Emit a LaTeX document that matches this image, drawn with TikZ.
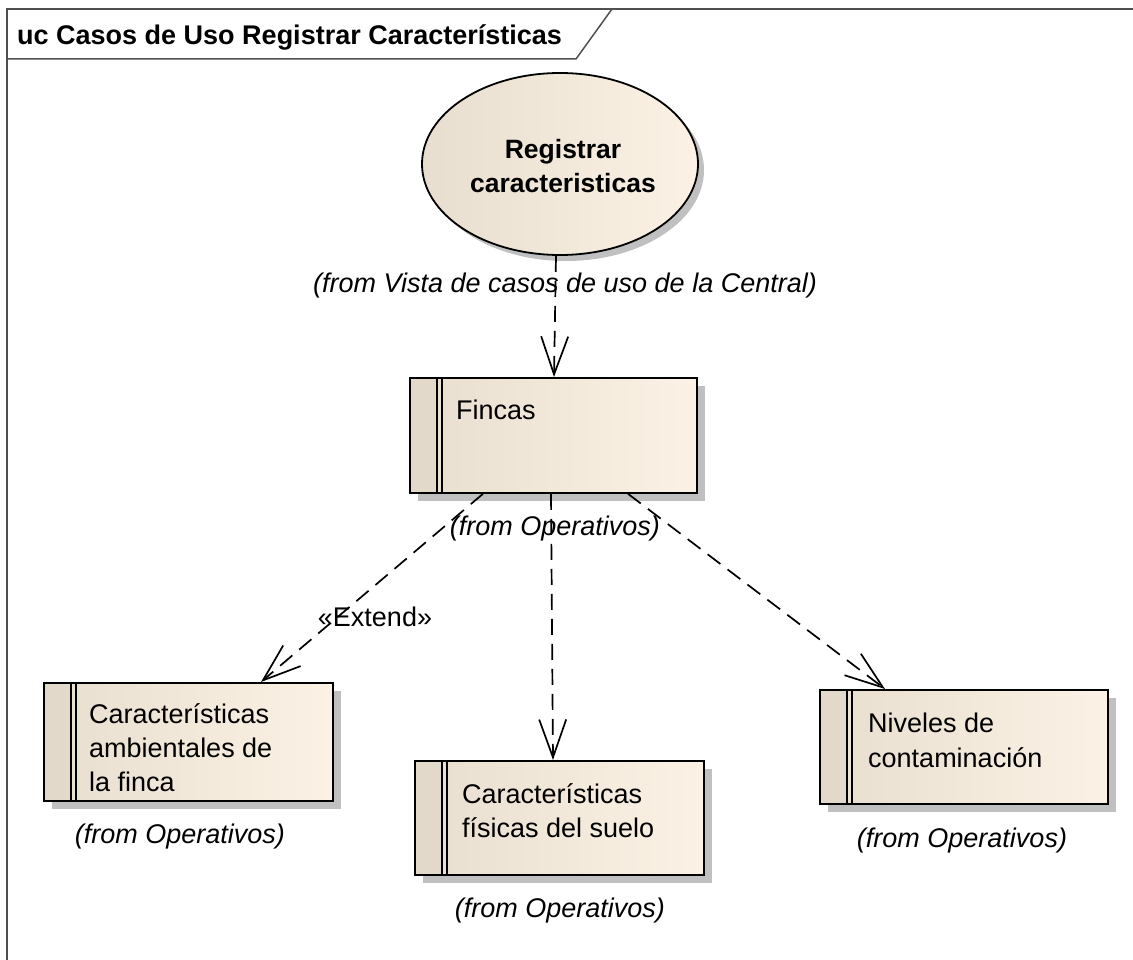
\documentclass[tikz,border=0pt]{standalone}
\usepackage{fontspec}
\setmainfont{Liberation Sans}
\usetikzlibrary{arrows.meta,shadows,calc,shapes.geometric}
\definecolor{fillL}{HTML}{E8DECF}
\definecolor{fillR}{HTML}{FBF2E5}
\definecolor{stripec}{HTML}{E3D9CA}
\definecolor{shadowc}{HTML}{C0C0C0}
\definecolor{framec}{HTML}{505050}
\begin{document}
\begin{tikzpicture}[x=1pt,y=-1pt,
  ucbox/.style={rectangle, draw=black, line width=1.8pt, inner sep=0pt,
    anchor=north west, left color=fillL, right color=fillR,
    drop shadow={shadow xshift=8pt, shadow yshift=-8pt, fill=shadowc, opacity=1},
    path picture={
      \fill[stripec] (path picture bounding box.north west) rectangle ([xshift=27pt]path picture bounding box.south west);
      \draw[line width=1.6pt] ([xshift=27pt]path picture bounding box.north west) -- ([xshift=27pt]path picture bounding box.south west);
      \draw[line width=1.6pt] ([xshift=32pt]path picture bounding box.north west) -- ([xshift=32pt]path picture bounding box.south west);
    }},
  uccase/.style={ellipse, draw=black, line width=1.8pt, inner sep=0pt,
    left color=fillL, right color=fillR,
    drop shadow={shadow xshift=6pt, shadow yshift=-6pt, fill=shadowc, opacity=1}},
  txt/.style={anchor=base west, inner sep=0pt, font=\fontsize{27}{34}\selectfont},
  fromtxt/.style={anchor=base, inner sep=0pt, font=\fontsize{27}{34}\selectfont\itshape},
  dep/.style={line width=1.7pt, dash pattern=on 16pt off 9pt,
    -{Straight Barb[length=38pt,width=27pt,line width=1.7pt]}},
]
\useasboundingbox (0,0) rectangle (1133,960);
\fill[white] (0,0) rectangle (1133,960);
% frame
\draw[framec, line width=1.5pt] (7,960) -- (7,9) -- (1133,9);
\draw[framec, line width=1.5pt] (7,59) -- (576,59) -- (612,9);
\node[anchor=base west, inner sep=0pt, font=\fontsize{27}{32}\selectfont\bfseries] (title) at (17,45) {uc Casos de Uso Registrar Características};

% use case
\node[uccase, minimum width=276pt, minimum height=182pt] (uc) at (560,164) {};
\node[anchor=base, inner sep=0pt, font=\fontsize{26.5}{32}\selectfont\bfseries] (ucA) at (563,159) {Registrar};
\node[anchor=base, inner sep=0pt, font=\fontsize{26.5}{32}\selectfont\bfseries] (ucB) at (563,193) {caracteristicas};
\node[fromtxt] (ucF) at (565,292) {(from Vista de casos de uso de la Central)};

% Fincas
\node[ucbox, minimum width=287pt, minimum height=115pt] (fincas) at (409,377) {};
\node[txt] (fincasA) at (456,419) {Fincas};
\node[fromtxt] (fincasF) at (555,535) {(from Operativos)};

% left
\node[ucbox, minimum width=289pt, minimum height=118pt] (amb) at (43,682) {};
\node[txt] (ambA) at (89,723) {Características};
\node[txt] (ambB) at (89,757) {ambientales de};
\node[txt] (ambC) at (89,791) {la finca};
\node[fromtxt] (ambF) at (180,843) {(from Operativos)};

% middle
\node[ucbox, minimum width=289pt, minimum height=114pt] (fis) at (414,760) {};
\node[txt] (fisA) at (462,803) {Características};
\node[txt] (fisB) at (462,837) {físicas del suelo};
\node[fromtxt] (fisF) at (560,917) {(from Operativos)};

% right
\node[ucbox, minimum width=288pt, minimum height=114pt] (niv) at (819,689) {};
\node[txt] (nivA) at (868,732) {Niveles de};
\node[txt] (nivB) at (868,767) {contaminación};
\node[fromtxt] (nivF) at (962,847) {(from Operativos)};

% connectors
\draw[dep] ([xshift=-4pt]uc.south) -- ([xshift=145pt]fincas.north west);
\draw[dep] ([xshift=74pt]fincas.south west) -- ([xshift=218pt]amb.north west);
\node[anchor=base, inner sep=0pt, font=\fontsize{27}{32}\selectfont] (ext) at (375,626) {«Extend»};
\draw[dep] ([xshift=142pt]fincas.south west) -- ([xshift=139pt]fis.north west);
\draw[dep] ([xshift=219pt]fincas.south west) -- ([xshift=66pt]niv.north west);
\end{tikzpicture}
\end{document}
